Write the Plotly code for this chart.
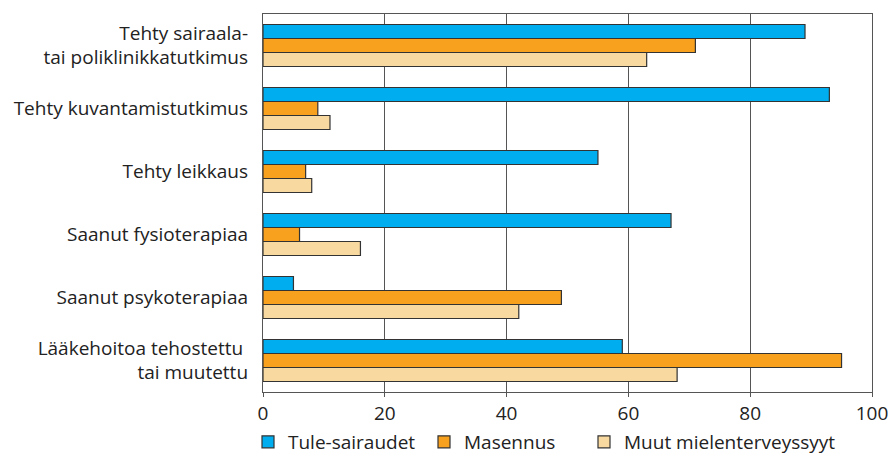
import plotly.graph_objects as go

categories = [
    "Tehty sairaala-<br>tai poliklinikkatutkimus",
    "Tehty kuvantamistutkimus",
    "Tehty leikkaus",
    "Saanut fysioterapiaa",
    "Saanut psykoterapiaa",
    "Lääkehoitoa tehostettu <br>tai muutettu",
]
series_names = ["Tule-sairaudet", "Masennus", "Muut mielenterveyssyyt"]
tule = [89, 93, 55, 67, 5, 59]
masennus = [71, 9, 7, 6, 49, 95]
muut = [63, 11, 8, 16, 42, 68]
x_ticks = [0, 20, 40, 60, 80, 100]

colors = ["#00AEEF", "#F7A11E", "#F8D9A0"]
FONT = "Open Sans"
FS = 19
legend_ids = ["legend", "legend2", "legend3"]
legend_x = [248, 424, 584]

fig = go.Figure()
for name, vals, col, lid in zip(series_names, [tule, masennus, muut], colors, legend_ids):
    fig.add_trace(go.Bar(
        y=categories, x=vals, name=name, orientation="h", legend=lid,
        marker=dict(color=col, line=dict(color="#333333", width=1.2)),
    ))

legend_common = dict(orientation="h", xref="container", yref="container",
                     y=1 - 423/455, xanchor="left", yanchor="top",
                     font=dict(family=FONT, size=FS, color="#222222"),
                     itemwidth=30, itemclick=False, bgcolor="rgba(0,0,0,0)")

fig.update_layout(
    width=895, height=455,
    margin=dict(l=263, r=23, t=14, b=63, autoexpand=False),
    paper_bgcolor="white", plot_bgcolor="white",
    barmode="group", bargap=1/3, bargroupgap=0,
    font=dict(family=FONT, size=FS, color="#222222"),
    showlegend=True,
    legend=dict(x=legend_x[0]/895, **legend_common),
    legend2=dict(x=legend_x[1]/895, **legend_common),
    legend3=dict(x=legend_x[2]/895, **legend_common),
)
fig.update_xaxes(
    range=[0, 100], tickvals=x_ticks, ticktext=[str(v) for v in x_ticks],
    showgrid=True, gridcolor="#555555", gridwidth=1.3,
    showline=True, linecolor="#555555", linewidth=1.3, mirror=True,
    ticks="outside", ticklen=4, tickcolor="#555555",
    zeroline=False, fixedrange=True, automargin=False,
    tickfont=dict(family=FONT, size=FS, color="#222222"),
)
fig.update_yaxes(
    range=[5.5, -0.5], showgrid=False,
    showline=True, linecolor="#555555", linewidth=1.3, mirror=True,
    ticks="", ticklabelstandoff=10, fixedrange=True, automargin=False,
    tickfont=dict(family=FONT, size=FS, color="#222222"),
)

fig.write_html("out.html", config={"displayModeBar": False},
               post_script="document.body.style.margin='0';document.body.style.padding='0';")
